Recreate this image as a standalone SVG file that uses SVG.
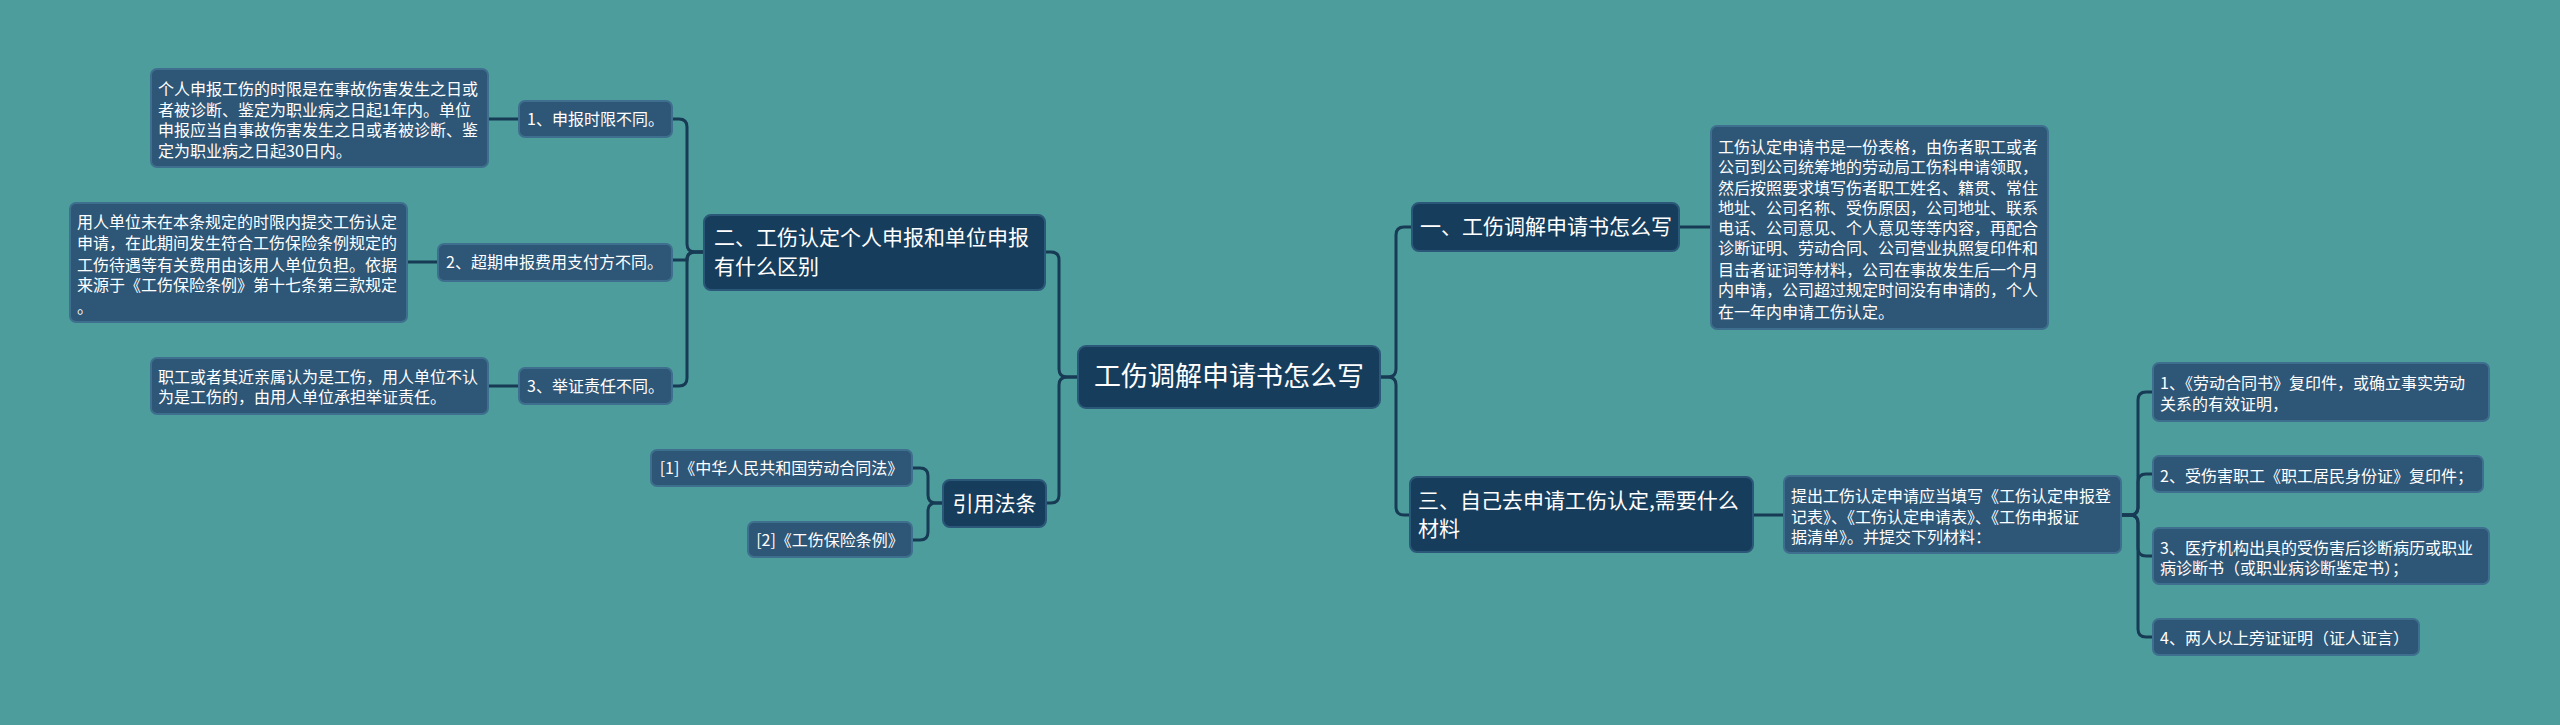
<svg xmlns="http://www.w3.org/2000/svg" width="2560" height="725" viewBox="0 0 2560 725">
<style>
text{font-family:"Noto Sans CJK SC","Noto Sans",sans-serif;fill:#ffffff}
.root{fill:#173d5c;stroke:#2b5878;stroke-width:2}
.main{fill:#173d5c;stroke:#2b5878;stroke-width:2}
.leaf{fill:#2e5676;stroke:#3f6f8e;stroke-width:2}
.t16{font-size:16px}
.t21{font-size:21px}
.t28{font-size:27px}
.c{fill:none;stroke:#173a55;stroke-width:3}
</style>
<rect width="2560" height="725" fill="#4e9d9d"/>
<g id="connectors">
<path class="c" d="M1078 377 H1067 Q1059 377 1059 369 V260 Q1059 252 1051 252 H1045"/>
<path class="c" d="M1078 377 H1067 Q1059 377 1059 385 V495 Q1059 503 1051 503 H1046"/>
<path class="c" d="M1380 377 H1388 Q1396 377 1396 369 V235 Q1396 227 1404 227 H1412"/>
<path class="c" d="M1380 377 H1388 Q1396 377 1396 385 V507 Q1396 515 1404 515 H1410"/>
<path class="c" d="M704 252 H695 Q687 252 687 244 V127 Q687 119 679 119 H672"/>
<path class="c" d="M704 252 H695 Q687 252 687 260 H672"/>
<path class="c" d="M704 252 H695 Q687 252 687 260 V378 Q687 386 679 386 H672"/>
<path class="c" d="M519 119 H488 M438 262 H407 M519 386 H488"/>
<path class="c" d="M1679 227 H1711 M1753 515 H1784"/>
<path class="c" d="M2121 515 H2130 Q2138 515 2138 507 V400 Q2138 392 2146 392 H2153"/>
<path class="c" d="M2121 515 H2130 Q2138 515 2138 507 V482 Q2138 474 2146 474 H2153"/>
<path class="c" d="M2121 515 H2130 Q2138 515 2138 523 V548 Q2138 556 2146 556 H2153"/>
<path class="c" d="M2121 515 H2130 Q2138 515 2138 523 V629 Q2138 637 2146 637 H2153"/>
<path class="c" d="M943 503 H936 Q928 503 928 495 V476 Q928 468 920 468 H912"/>
<path class="c" d="M943 503 H936 Q928 503 928 511 V532 Q928 540 920 540 H912"/>
</g>
<g id="root"><rect class="root" x="1078" y="346" width="302" height="62" rx="8"/><text class="t28" x="1229" y="386" text-anchor="middle">工伤调解申请书怎么写</text></g>
<g id="n2"><rect class="main" x="704" y="215" width="341" height="75" rx="7"/><text class="t21" x="714" y="245">二、工伤认定个人申报和单位申报</text><text class="t21" x="714" y="274">有什么区别</text></g>
<g id="n2a"><rect class="leaf" x="519" y="101" width="153" height="36" rx="6"/><text class="t16" x="527" y="125">1、申报时限不同。</text></g>
<g id="n2b"><rect class="leaf" x="438" y="244" width="234" height="37" rx="6"/><text class="t16" x="446" y="268">2、超期申报费用支付方不同。</text></g>
<g id="n2c"><rect class="leaf" x="519" y="368" width="153" height="36" rx="6"/><text class="t16" x="527" y="392">3、举证责任不同。</text></g>
<g id="n2a1"><rect class="leaf" x="151" y="69" width="337" height="98" rx="6"/>
<text class="t16" x="158" y="95">个人申报工伤的时限是在事故伤害发生之日或</text>
<text class="t16" x="158" y="116">者被诊断、鉴定为职业病之日起1年内。单位</text>
<text class="t16" x="158" y="136">申报应当自事故伤害发生之日或者被诊断、鉴</text>
<text class="t16" x="158" y="157">定为职业病之日起30日内。</text></g>
<g id="n2b1"><rect class="leaf" x="70" y="203" width="337" height="119" rx="6"/>
<text class="t16" x="77" y="228">用人单位未在本条规定的时限内提交工伤认定</text>
<text class="t16" x="77" y="249">申请，在此期间发生符合工伤保险条例规定的</text>
<text class="t16" x="77" y="271">工伤待遇等有关费用由该用人单位负担。依据</text>
<text class="t16" x="77" y="291">来源于《工伤保险条例》第十七条第三款规定</text>
<text class="t16" x="77" y="313">。</text></g>
<g id="n2c1"><rect class="leaf" x="151" y="358" width="337" height="56" rx="6"/>
<text class="t16" x="158" y="383">职工或者其近亲属认为是工伤，用人单位不认</text>
<text class="t16" x="158" y="403">为是工伤的，由用人单位承担举证责任。</text></g>
<g id="law"><rect class="main" x="943" y="480" width="103" height="47" rx="7"/><text class="t21" x="994.5" y="511" text-anchor="middle">引用法条</text></g>
<g id="law1"><rect class="leaf" x="651" y="450" width="261" height="36" rx="6"/><text class="t16" x="781.5" y="474" text-anchor="middle">[1]《中华人民共和国劳动合同法》</text></g>
<g id="law2"><rect class="leaf" x="748" y="522" width="164" height="35" rx="6"/><text class="t16" x="830" y="546" text-anchor="middle">[2]《工伤保险条例》</text></g>
<g id="n1"><rect class="main" x="1412" y="203" width="267" height="48" rx="7"/><text class="t21" x="1420" y="234">一、工伤调解申请书怎么写</text></g>
<g id="n1a"><rect class="leaf" x="1711" y="126" width="337" height="203" rx="6"/>
<text class="t16" x="1718" y="153">工伤认定申请书是一份表格，由伤者职工或者</text>
<text class="t16" x="1718" y="173">公司到公司统筹地的劳动局工伤科申请领取，</text>
<text class="t16" x="1718" y="194">然后按照要求填写伤者职工姓名、籍贯、常住</text>
<text class="t16" x="1718" y="214">地址、公司名称、受伤原因，公司地址、联系</text>
<text class="t16" x="1718" y="234">电话、公司意见、个人意见等等内容，再配合</text>
<text class="t16" x="1718" y="254">诊断证明、劳动合同、公司营业执照复印件和</text>
<text class="t16" x="1718" y="276">目击者证词等材料，公司在事故发生后一个月</text>
<text class="t16" x="1718" y="296">内申请，公司超过规定时间没有申请的，个人</text>
<text class="t16" x="1718" y="318">在一年内申请工伤认定。</text></g>
<g id="n3"><rect class="main" x="1410" y="477" width="343" height="75" rx="7"/><text class="t21" x="1418" y="508">三、自己去申请工伤认定,需要什么</text><text class="t21" x="1418" y="536">材料</text></g>
<g id="n3a"><rect class="leaf" x="1784" y="476" width="337" height="77" rx="6"/>
<text class="t16" x="1791" y="502">提出工伤认定申请应当填写《工伤认定申报登</text>
<text class="t16" x="1791" y="523">记表》、《工伤认定申请表》、《工伤申报证</text>
<text class="t16" x="1791" y="543">据清单》。并提交下列材料：</text></g>
<g id="m1"><rect class="leaf" x="2153" y="363" width="336" height="58" rx="6"/><text class="t16" x="2160" y="389">1、《劳动合同书》复印件，或确立事实劳动</text><text class="t16" x="2160" y="410">关系的有效证明，</text></g>
<g id="m2"><rect class="leaf" x="2153" y="456" width="330" height="36" rx="6"/><text class="t16" x="2160" y="482">2、受伤害职工《职工居民身份证》复印件；</text></g>
<g id="m3"><rect class="leaf" x="2153" y="528" width="336" height="56" rx="6"/><text class="t16" x="2160" y="554">3、医疗机构出具的受伤害后诊断病历或职业</text><text class="t16" x="2160" y="574">病诊断书（或职业病诊断鉴定书）；</text></g>
<g id="m4"><rect class="leaf" x="2153" y="619" width="266" height="36" rx="6"/><text class="t16" x="2160" y="644">4、两人以上旁证证明（证人证言）</text></g>
</svg>
